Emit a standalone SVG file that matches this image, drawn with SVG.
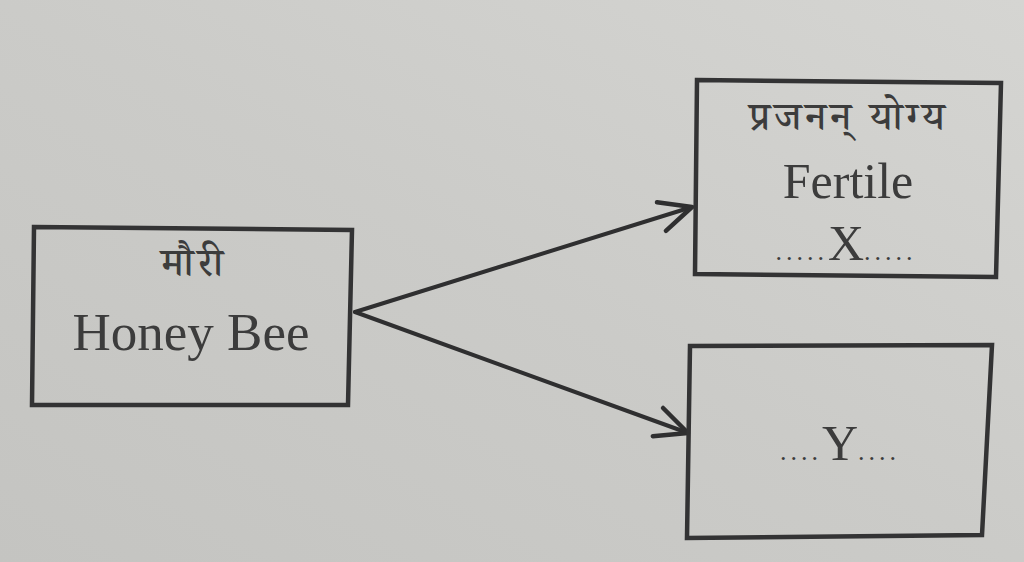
<svg xmlns="http://www.w3.org/2000/svg" width="1024" height="562" viewBox="0 0 1024 562">
  <defs>
    <linearGradient id="bg" x1="0" y1="1" x2="1" y2="0">
      <stop offset="0" stop-color="#c4c4c1"/>
      <stop offset="0.5" stop-color="#cbcbc8"/>
      <stop offset="1" stop-color="#d5d5d2"/>
    </linearGradient>
    <marker id="arr" viewBox="0 0 40 40" refX="36" refY="20" markerWidth="40" markerHeight="40" markerUnits="userSpaceOnUse" orient="auto">
      <polyline points="4,5 36,20 4,35" fill="none" stroke="#2f2f30" stroke-width="4.5" stroke-linecap="round" stroke-linejoin="round"/>
    </marker>
    <style>
      .box { fill: none; stroke: #333334; stroke-width: 4.5; stroke-linejoin: miter; }
      .lat { font-family: "Liberation Serif", "Times New Roman", serif; fill: #3c3c3c; text-anchor: middle; }
      .dev { font-family: "Noto Serif Devanagari", "Noto Sans Devanagari", "Lohit Devanagari", "Noto Sans", "DejaVu Sans", sans-serif; fill: #3c3c3c; text-anchor: middle; font-weight: 500; }
      .dots { font-size: 26px; letter-spacing: 4px; }
      .conn { fill: none; stroke: #2f2f30; stroke-width: 4; stroke-linecap: round; }
    </style>
  </defs>
  <rect width="1024" height="562" fill="url(#bg)"/>

  <g id="connectors">
    <line class="conn" x1="355" y1="312" x2="692" y2="207" marker-end="url(#arr)"/>
    <line class="conn" x1="355" y1="312" x2="688" y2="433" marker-end="url(#arr)"/>
  </g>

  <g id="node-honeybee">
    <polygon class="box" points="34,227 352,230 348,405 32,405"/>
    <text class="dev" x="194" y="276" font-size="40" letter-spacing="4">मौरी</text>
    <text class="lat" x="191" y="350" font-size="53">Honey Bee</text>
  </g>

  <g id="node-fertile">
    <polygon class="box" points="697,80 1001,83 996,277 695,274"/>
    <text class="dev" x="849" y="130" font-size="40" letter-spacing="4">प्रजनन् योग्य</text>
    <text class="lat" x="848" y="198" font-size="50">Fertile</text>
    <text class="lat" x="846" y="260" font-size="50"><tspan class="dots">.....</tspan>X<tspan class="dots">.....</tspan></text>
  </g>

  <g id="node-y">
    <polygon class="box" points="690,346 992,345 982,535 687,538"/>
    <text class="lat" x="840" y="460" font-size="50"><tspan class="dots">....</tspan>Y<tspan class="dots">....</tspan></text>
  </g>
</svg>
